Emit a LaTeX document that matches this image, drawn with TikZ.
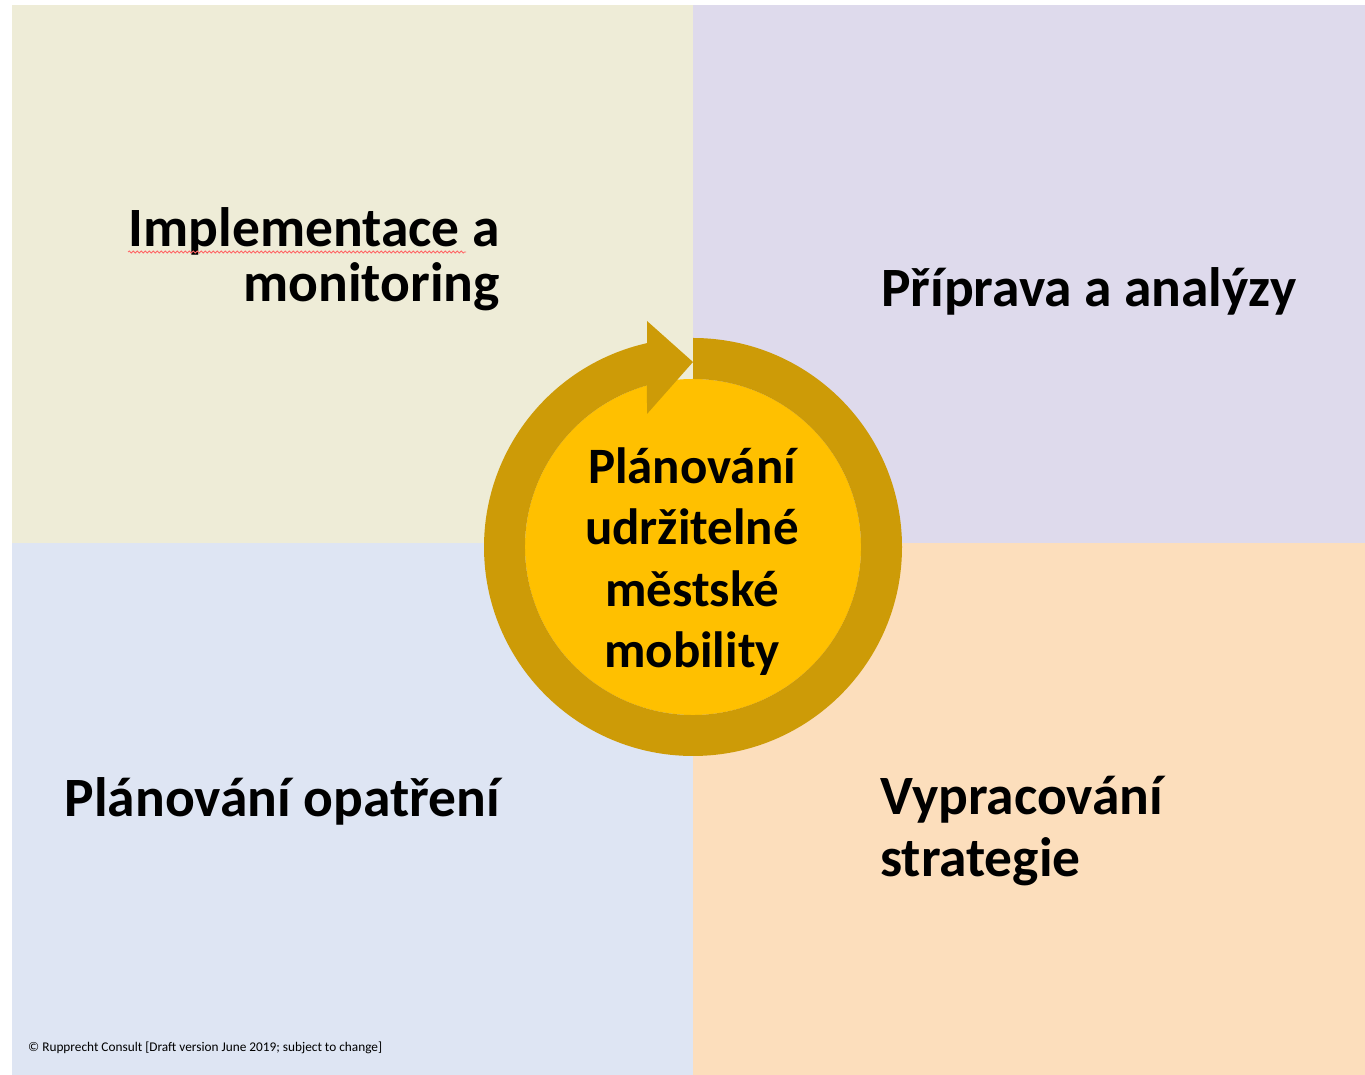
\documentclass[tikz,border=0pt]{standalone}
\usepackage{fontspec}
\setmainfont{Carlito}
\usetikzlibrary{calc, decorations.pathmorphing}
\definecolor{bezova}{HTML}{EEECD7}
\definecolor{fialova}{HTML}{DEDAEC}
\definecolor{modra}{HTML}{DEE5F3}
\definecolor{oranzova}{HTML}{FCDEBC}
\definecolor{zlata}{HTML}{CD9B07}
\definecolor{zluta}{HTML}{FFC000}

\begin{document}
\begin{tikzpicture}[x=1pt, y=1pt, font=\bfseries,
		nadpis/.style={inner sep=0pt, font=\fontsize{55.5}{55}\selectfont\bfseries}]
				\useasboundingbox (0,0) rectangle (1365,1075);
				\fill[white] (0,0) rectangle (1365,1075);
				\fill[bezova] (12,532) rectangle (693,1070);
				\fill[fialova] (693,532) rectangle (1365,1070);
				\fill[modra] (12,0) rectangle (693,532);
				\fill[oranzova] (693,0) rectangle (1365,532);
				% kruh se sipkou
				\coordinate (stred) at (693,528);
				\fill[zluta] (stred) circle[radius=168];
				\fill[zlata] ($(stred)+(90:209)$) arc[start angle=90, end angle=-257.3, radius=209]
					-- (647,754) -- (693,713) -- (647,661)
					-- ($(stred)+(-254.1:168)$) arc[start angle=-254.1, end angle=90, radius=168] -- cycle;
				\node (kruh) [inner sep=0pt, align=center, anchor=base,
					font=\fontsize{51}{61.5}\selectfont\bfseries] at (692,407)
					{Plánování\\udržitelné\\městské\\mobility};
				% ctyri faze
				\node (impl) [nadpis, align=right, anchor=base east] at (500,773) {Implementace a\\monitoring};
				\draw[red!60, line width=0.8pt, decorate, decoration={snake, amplitude=1pt, segment length=4pt}]
					(128,823) -- (466,823);
				\node (priprava) [nadpis, anchor=base west] at (881,768) {Příprava a analýzy};
				\node (opatreni) [nadpis, anchor=base east] at (500,258) {Plánování opatření};
				\node (strategie) [nadpis, align=left, anchor=base west,
					font=\fontsize{55.5}{62}\selectfont\bfseries] at (880,198) {Vypracování\\strategie};
				\node (copy) [inner sep=0pt, anchor=base west, font=\fontsize{13.3}{14}\selectfont] at (28,23)
					{© Rupprecht Consult [Draft version June 2019; subject to change]};
			\end{tikzpicture}
\end{document}
